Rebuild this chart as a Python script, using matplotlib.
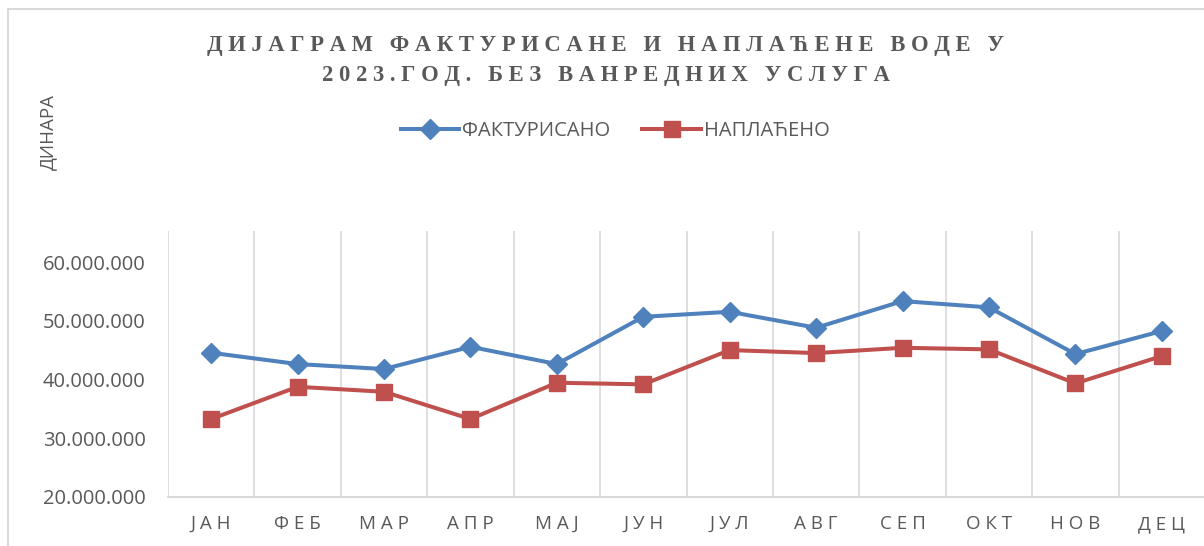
import matplotlib.pyplot as plt
import matplotlib.patches as mpatches
from matplotlib.ticker import FuncFormatter
import numpy as np

months = ['Ј А Н', 'Ф Е Б', 'М А Р', 'А П Р', 'М А Ј', 'Ј У Н',
          'Ј У Л', 'А В Г', 'С Е П', 'О К Т', 'Н О В', 'Д Е Ц']
fakturisano = [44.56, 42.64, 41.79, 45.58, 42.64, 50.69,
               51.54, 48.82, 53.36, 52.29, 44.34, 48.26]   # milioni dinara
naplaceno = [33.28, 38.77, 37.92, 33.28, 39.46, 39.18,
             45.02, 44.51, 45.41, 45.14, 39.35, 44.00]
yticks = [20, 30, 40, 50, 60]

fakturisano = np.array(fakturisano) * 1e6
naplaceno = np.array(naplaceno) * 1e6

grey = '#595959'
blue = '#4F81BD'
red = '#C0504D'

fig = plt.figure(figsize=(12.04, 5.46), dpi=100)
ax = fig.add_axes([168/1204, 1 - 497/546, 1037/1204, 266/546])

x = np.arange(len(months))
ax.plot(x, fakturisano, color=blue, lw=2.9, marker='D', markersize=10.5,
        label='ФАКТУРИСАНО', zorder=3)
ax.plot(x, naplaceno, color=red, lw=2.9, marker='s', markersize=11.5,
        label='НАПЛАЋЕНО', zorder=3)

ax.set_xlim(-0.5, len(months) - 0.5)
ax.set_ylim(20e6, 65.3e6)
ax.set_yticks(np.array(yticks) * 1e6)
ax.yaxis.set_major_formatter(FuncFormatter(lambda v, p: f'{int(v):,}'.replace(',', '.')))
ax.set_xticks(x)
ax.set_xticklabels(months)

# vertical separators between categories
for b in np.arange(-0.5, len(months), 1.0):
    ax.axvline(b, color='#d9d9d9', lw=1.2, zorder=1)

for s in ['top', 'right', 'left']:
    ax.spines[s].set_visible(False)
ax.spines['bottom'].set_color('#d9d9d9')
ax.spines['bottom'].set_linewidth(1.5)
ax.tick_params(axis='both', length=0, colors=grey)
ax.tick_params(axis='y', pad=16, labelsize=14.5)
ax.tick_params(axis='x', pad=13, labelsize=13.5)
for lab in ax.get_yticklabels() + ax.get_xticklabels():
    lab.set_fontfamily('Open Sans')

fig.text(0.503, 1 - 46/546, 'Д И Ј А Г Р А М   Ф А К Т У Р И С А Н Е   И   Н А П Л А Ћ Е Н Е   В О Д Е   У',
         ha='center', va='center', fontsize=16.3, fontweight='bold',
         family='Liberation Serif', color=grey)
fig.text(0.503, 1 - 76/546, '2 0 2 3 . Г О Д .   Б Е З   В А Н Р Е Д Н И Х   У С Л У Г А',
         ha='center', va='center', fontsize=16.3, fontweight='bold',
         family='Liberation Serif', color=grey)

fig.text(48/1204, 1 - 132/546, 'ДИНАРА', rotation=90, ha='center', va='center',
         fontsize=13.5, family='Open Sans', color=grey)

leg = fig.legend(loc='center', bbox_to_anchor=(615/1204, 1 - 131/546), ncol=2,
                 frameon=False, handlelength=2.9, handletextpad=0.15, columnspacing=1.6,
                 prop={'family': 'Open Sans', 'size': 14.5})
for t in leg.get_texts():
    t.set_color(grey)

# chart border
fig.patches.append(mpatches.Rectangle((8/1204, -0.1), 1.2, 1.1 - 9/546,
                                      transform=fig.transFigure, fill=False,
                                      edgecolor='#d9d9d9', lw=1.5))

fig.savefig('out.png', dpi=100)
